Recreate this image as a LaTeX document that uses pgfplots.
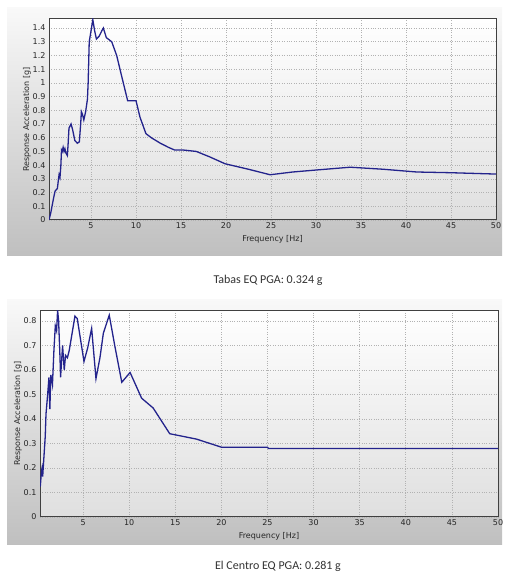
\documentclass[border=0pt]{standalone}
\usepackage{fontspec}
\setmainfont{DejaVu Sans}
\newfontfamily\carlito{Carlito}
\usepackage{pgfplots}
\pgfplotsset{compat=1.18}
\definecolor{curve}{RGB}{35,35,140}
\pgfplotsset{
  specstyle/.style={
    scale only axis,
    anchor=south west,
    xmin=0.33, xmax=50,
    xtick={5,10,...,50},
    grid=major,
    major grid style={dotted, gray!60, line width=0.6pt},
    axis background/.style={top color=white, bottom color=gray!25},
    axis line style={black!75, line width=1pt},
    tick style={draw=none},
    ticklabel style={font=\fontsize{8}{9}\selectfont, text=black!85},
    /pgf/number format/assume math mode=true,
    /pgf/number format/fixed,
    /pgf/number format/precision=1,
    label style={font=\fontsize{8}{9}\selectfont, text=black!85},
    xlabel={Frequency [Hz]},
    ylabel={Response Acceleration [g]},
    xlabel style={yshift=-5pt, inner sep=0pt},
    ylabel style={yshift=-5pt},
    xticklabel style={yshift=-1.5pt, inner sep=1pt},
  }
}
\begin{document}
\begin{tikzpicture}[x=1pt,y=1pt]
\fill[white] (0,0) rectangle (502,581);
\shade[top color=gray!5, bottom color=gray!50] (7,325) rectangle (502,573);
\shade[top color=gray!5, bottom color=gray!50] (7,36) rectangle (502,281);
\node[font=\carlito\fontsize{12}{14}\selectfont, text=black!80] at (268,301) {Tabas EQ PGA: 0.324 g};
\node[font=\carlito\fontsize{12}{14}\selectfont, text=black!80] at (278,15) {El Centro EQ PGA: 0.281 g};
\begin{axis}[specstyle, at={(49pt,361pt)}, width=447pt, height=201pt,
  ymin=0, ymax=1.466, ytick={0,0.1,...,1.41}]
\addplot[curve, line width=1.3pt] coordinates {
(0.33,0) (0.52,0.05) (0.81,0.15) (1.0,0.21) (1.26,0.23) (1.37,0.29) (1.45,0.33) (1.55,0.31) (1.65,0.40) (1.72,0.51) (1.8,0.50) (1.9,0.53) (2.0,0.50) (2.1,0.52) (2.2,0.49) (2.37,0.47) (2.45,0.55) (2.55,0.67) (2.78,0.70) (2.95,0.66) (3.2,0.58) (3.48,0.56) (3.7,0.57) (3.85,0.70) (3.93,0.79) (4.05,0.77) (4.2,0.73) (4.4,0.79) (4.6,0.88) (4.68,1.0) (4.8,1.3) (4.95,1.36) (5.2,1.46) (5.4,1.38) (5.6,1.32) (5.9,1.34) (6.2,1.38) (6.37,1.40) (6.7,1.33) (7.3,1.30) (7.85,1.20) (8.4,1.05) (9.07,0.87) (10.0,0.87) (10.44,0.75) (11.1,0.63) (11.7,0.60) (12.7,0.56) (13.6,0.53) (14.3,0.51) (15.3,0.51) (16.7,0.50) (18.2,0.46) (19.9,0.41) (21.2,0.39) (22.5,0.37) (24.9,0.33) (27.4,0.35) (30.1,0.365) (33.8,0.385) (37.5,0.37) (41.2,0.35) (44.9,0.345) (50,0.335)
};
\end{axis}
\begin{axis}[specstyle, at={(40pt,64pt)}, width=458pt, height=207pt,
  ymin=0, ymax=0.845, ytick={0,0.1,...,0.81}]
\addplot[curve, line width=1.3pt] coordinates {
(0.36,0.124) (0.5,0.19) (0.55,0.20) (0.62,0.165) (0.9,0.33) (0.98,0.42) (1.16,0.50) (1.3,0.57) (1.4,0.44) (1.5,0.58) (1.68,0.54) (1.84,0.68) (1.99,0.78) (2.13,0.76) (2.24,0.845) (2.35,0.80) (2.5,0.65) (2.56,0.57) (2.78,0.70) (2.96,0.60) (3.1,0.66) (3.3,0.65) (3.5,0.68) (4.12,0.82) (4.37,0.81) (5.1,0.635) (5.5,0.69) (5.93,0.77) (6.4,0.565) (6.83,0.65) (7.2,0.75) (7.84,0.824) (8.46,0.695) (9.2,0.55) (10.1,0.59) (11.35,0.485) (12.6,0.445) (14.4,0.34) (17.3,0.318) (20.0,0.285) (22.9,0.285) (25,0.285) (25.1,0.28) (50,0.28)
};
\end{axis}
\end{tikzpicture}
\end{document}
